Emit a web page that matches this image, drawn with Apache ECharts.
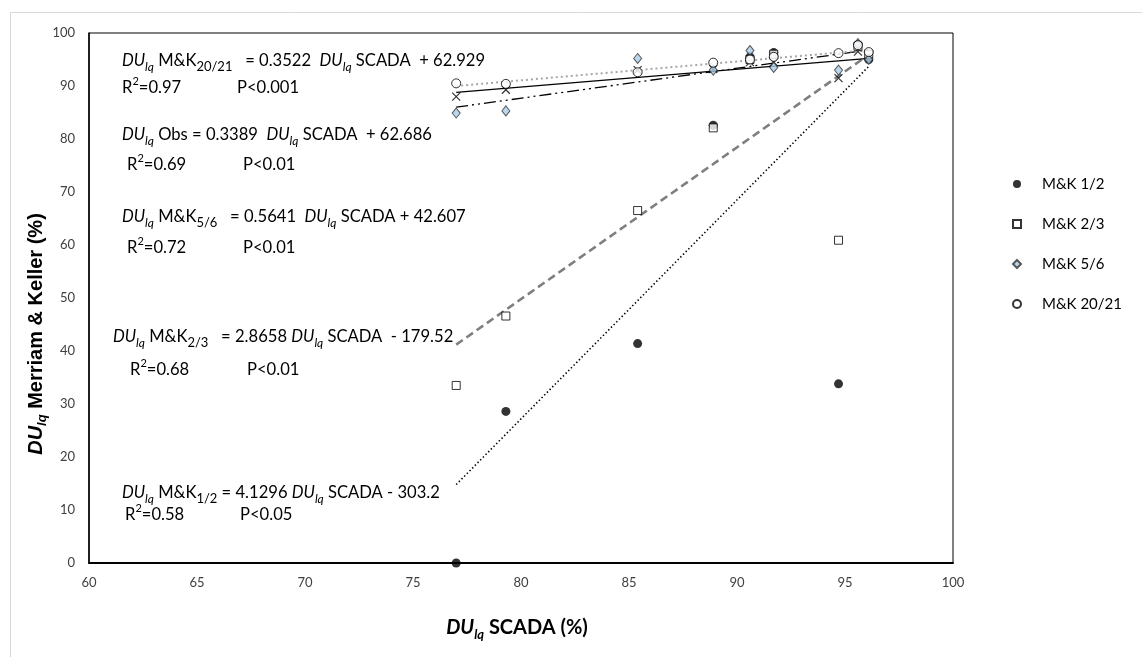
<!DOCTYPE html>
<html><head><meta charset="utf-8">
<script src="https://cdn.jsdelivr.net/npm/echarts@6/dist/echarts.min.js"></script>
<style>html,body{margin:0;padding:0;background:#fff}#c{width:1142px;height:657px}</style>
</head><body><div id="c"></div>
<script>
// ---- data ----
const scada  = [77.0, 79.3, 85.4, 88.9, 90.6, 91.7, 94.7, 95.6, 96.1];
const mk12   = [0.0, 28.6, 41.4, 82.6, 95.5, 96.3, 33.8, 97.8, 95.0];
const mk23   = [33.5, 46.6, 66.5, 82.1, 95.0, 96.0, 60.9, 97.5, 96.0];
const mk56   = [84.9, 85.3, 95.2, 93.0, 96.7, 93.5, 93.0, 98.0, 95.0];
const mk2021 = [90.5, 90.4, 92.6, 94.4, 95.0, 95.5, 96.2, 97.7, 96.4];
const obs    = [88.0, 89.3, 93.0, 93.2, 94.5, 94.5, 91.5, 96.5, 95.5];
const trendX      = [77.0, 96.1];
const trend12     = [14.8, 93.7];
const trend23     = [41.2, 95.9];
const trend56     = [86.0, 96.8];
const trend2021   = [90.0, 96.8];
const trendObs    = [88.8, 95.2];
const legendNames = ['M&K 1/2', 'M&K 2/3', 'M&K 5/6', 'M&K 20/21'];
const xTicks = {min: 60, max: 100, step: 5};
const yTicks = {min: 0, max: 100, step: 10};

const pairs = (xs, ys) => xs.map((x, i) => [x, ys[i]]);

const F = 'Lato';
const FS = 16.6;
const eqRich = {
  n:  {fontFamily: F, fontSize: FS, lineHeight: 24, verticalAlign: 'middle', color: '#000'},
  i:  {fontFamily: F, fontSize: FS, fontStyle: 'italic', lineHeight: 24, verticalAlign: 'middle', color: '#000'},
  si: {fontFamily: F, fontSize: 12, fontStyle: 'italic', lineHeight: 12, verticalAlign: 'bottom', color: '#000'},
  s:  {fontFamily: F, fontSize: 13, lineHeight: 12, verticalAlign: 'bottom', color: '#000'},
  p:  {fontFamily: F, fontSize: 11, lineHeight: 12, verticalAlign: 'top', color: '#000'}
};
const DU = '{i|DU}{si|lq}';
const annotations = [
  {x: 122, y: 61,  t: DU + '{n| M&K}{s|20/21}{n|   = 0.3522  }' + DU + '{n| SCADA  + 62.929}'},
  {x: 122, y: 88,  t: '{n|R}{p|2}{n|=0.97}'}, {x: 237, y: 88, t: '{n|P<0.001}'},
  {x: 122, y: 135, t: DU + '{n| Obs = 0.3389  }' + DU + '{n| SCADA  + 62.686}'},
  {x: 127, y: 165, t: '{n|R}{p|2}{n|=0.69}'}, {x: 243, y: 165, t: '{n|P<0.01}'},
  {x: 122, y: 217, t: DU + '{n| M&K}{s|5/6}{n|   = 0.5641  }' + DU + '{n| SCADA + 42.607}'},
  {x: 127, y: 248, t: '{n|R}{p|2}{n|=0.72}'}, {x: 243, y: 248, t: '{n|P<0.01}'},
  {x: 113, y: 337, t: DU + '{n| M&K}{s|2/3}{n|   = 2.8658 }' + DU + '{n| SCADA  - 179.52}'},
  {x: 130, y: 370, t: '{n|R}{p|2}{n|=0.68}'}, {x: 247, y: 370, t: '{n|P<0.01}'},
  {x: 122, y: 493, t: DU + '{n| M&K}{s|1/2}{n| = 4.1296 }' + DU + '{n| SCADA - 303.2}'},
  {x: 125, y: 515, t: '{n|R}{p|2}{n|=0.58}'}, {x: 240, y: 515, t: '{n|P<0.05}'}
];

const graphics = [
  {type: 'rect', silent: true, z: -10, shape: {x: 10.5, y: 12.5, width: 1300, height: 800},
   style: {fill: 'none', stroke: '#d9d9d9', lineWidth: 1}}
];
annotations.forEach(a => graphics.push({
  type: 'text', x: a.x, y: a.y, z: 50, silent: true,
  style: {text: a.t, rich: eqRich, align: 'left', verticalAlign: 'middle', fontFamily: F, fontSize: FS, fill: '#000'}
}));
// axis titles
graphics.push({
  type: 'text', x: 36, y: 334, rotation: Math.PI / 2, z: 50, silent: true,
  style: {
    text: '{bi|DU}{bs|lq}{b| Merriam & Keller (%)}', align: 'center', verticalAlign: 'middle',
    rich: {
      b:  {fontFamily: 'Liberation Sans', fontWeight: 'bold', fontSize: 20, lineHeight: 26, verticalAlign: 'middle', color: '#000'},
      bi: {fontFamily: 'Liberation Sans', fontWeight: 'bold', fontStyle: 'italic', fontSize: 20, lineHeight: 26, verticalAlign: 'middle', color: '#000'},
      bs: {fontFamily: 'Liberation Sans', fontWeight: 'bold', fontStyle: 'italic', fontSize: 13, lineHeight: 13, verticalAlign: 'bottom', color: '#000'}
    }
  }
});
graphics.push({
  type: 'text', x: 517, y: 628, z: 50, silent: true,
  style: {
    text: '{bi|DU}{bs|lq}{b| SCADA (%)}', align: 'center', verticalAlign: 'middle',
    rich: {
      b:  {fontFamily: F, fontWeight: 'bold', fontSize: 20, lineHeight: 26, verticalAlign: 'middle', color: '#000'},
      bi: {fontFamily: F, fontWeight: 'bold', fontStyle: 'italic', fontSize: 20, lineHeight: 26, verticalAlign: 'middle', color: '#000'},
      bs: {fontFamily: F, fontWeight: 'bold', fontStyle: 'italic', fontSize: 13, lineHeight: 13, verticalAlign: 'bottom', color: '#000'}
    }
  }
});

function trend(name, ys, ls) {
  return {type: 'line', name: name, data: pairs(trendX, ys), symbol: 'none', silent: true, z: 1,
          lineStyle: Object.assign({cap: 'butt'}, ls), animation: false};
}

const chart = echarts.init(document.getElementById('c'), null, {renderer: 'canvas'});
chart.setOption({
  animation: false,
  backgroundColor: '#fff',
  grid: {left: 89, right: 189, top: 33, bottom: 94, show: true, borderColor: '#000', borderWidth: 1},
  xAxis: {
    type: 'value', min: xTicks.min, max: xTicks.max, interval: xTicks.step,
    axisLine: {show: true, onZero: false, lineStyle: {color: '#000', width: 2}},
    axisTick: {show: false}, splitLine: {show: false},
    axisLabel: {fontFamily: F, fontSize: 13, color: '#404040', margin: 13}
  },
  yAxis: {
    type: 'value', min: yTicks.min, max: yTicks.max, interval: yTicks.step,
    axisLine: {show: true, onZero: false, lineStyle: {color: '#000', width: 1.5}},
    axisTick: {show: false}, splitLine: {show: false},
    axisLabel: {fontFamily: F, fontSize: 13, color: '#404040', margin: 14}
  },
  legend: {
    data: legendNames, orient: 'vertical', left: 1007, top: 170, itemGap: 22,
    itemWidth: 8, itemHeight: 8,
    textStyle: {fontFamily: F, fontSize: 15, color: '#000', lineHeight: 18, padding: [0, 0, 0, 16]}
  },
  graphic: graphics,
  series: [
    trend('t12', trend12, {color: '#000', width: 1.6, type: [1.4, 2.4]}),
    trend('t23', trend23, {color: '#7f7f7f', width: 2.6, type: [8, 4.5]}),
    trend('t56', trend56, {color: '#000', width: 1.3, type: [12, 4, 2, 4, 2, 4]}),
    trend('t2021', trend2021, {color: '#a6a6a6', width: 2, type: [2, 3]}),
    trend('tobs', trendObs, {color: '#000', width: 1.3, type: 'solid'}),
    {type: 'scatter', name: 'Obs', data: pairs(scada, obs), z: 3, symbol: 'path://M0,0L10,10M10,0L0,10',
     symbolSize: 8, itemStyle: {color: 'none', borderColor: '#000', borderWidth: 1.2}},
    {type: 'scatter', name: 'M&K 1/2', data: pairs(scada, mk12), z: 4, symbol: 'circle', symbolSize: 9,
     itemStyle: {color: '#000'}},
    {type: 'scatter', name: 'M&K 2/3', data: pairs(scada, mk23), z: 4, symbol: 'rect', symbolSize: 8,
     itemStyle: {color: '#fff', borderColor: '#000', borderWidth: 1}},
    {type: 'scatter', name: 'M&K 5/6', data: pairs(scada, mk56), z: 4, symbol: 'diamond', symbolSize: [8, 10],
     itemStyle: {color: '#a9cde8', borderColor: '#333', borderWidth: 1}},
    {type: 'scatter', name: 'M&K 20/21', data: pairs(scada, mk2021), z: 4, symbol: 'circle', symbolSize: 9,
     itemStyle: {color: '#fff', borderColor: '#000', borderWidth: 1}}
  ]
});
</script>
</body></html>
